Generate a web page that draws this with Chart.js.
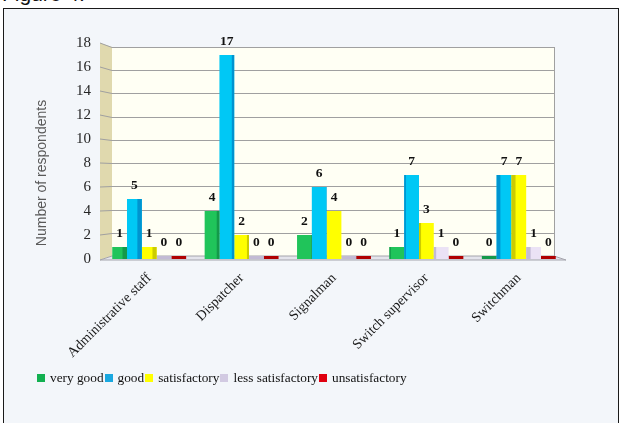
<!DOCTYPE html>
<html>
<head>
<meta charset="utf-8">
<script src="https://cdn.jsdelivr.net/npm/chart.js@4/dist/chart.umd.min.js"></script>
<style>
  html, body { margin: 0; padding: 0; background: #ffffff; width: 622px; height: 423px; overflow: hidden; }
  #cap { position: absolute; left: 2px; top: -18px; font: 21px "Liberation Sans", Arial, sans-serif; color: #111; line-height: 24px; }
  #frame { position: absolute; left: 3px; top: 8px; width: 614px; height: 440px; border: 1px solid #1a1a1a; background: #f3f6fa; }
  #chartBox { position: absolute; left: 0; top: 0; width: 622px; height: 423px; }
  #legend { position: absolute; left: 37px; top: 370px; font: 13.3px "Liberation Serif", "Times New Roman", serif; color: #111; white-space: nowrap; display: flex; }
  #legend .item { display: inline-flex; align-items: center; margin-right: 1px; }
  #legend .box { display: inline-block; width: 8px; height: 8px; margin-right: 5px; }
</style>
</head>
<body>
<div id="cap">Figure 4.</div>
<div id="frame"></div>
<div id="chartBox"><canvas id="c" width="622" height="423"></canvas></div>
<div id="legend"></div>
<script>
// Survey results: respondents per job category and rating
const categories = ['Administrative staff', 'Dispatcher', 'Signalman', 'Switch supervisor', 'Switchman'];
const seriesNames = ['very good', 'good', 'satisfactory', 'less satisfactory', 'unsatisfactory'];
const veryGood = [1, 4, 2, 1, 0];
const good = [5, 17, 6, 7, 7];
const satisfactory = [1, 2, 4, 3, 7];
const lessSatisfactory = [0, 0, 0, 1, 1];
const unsatisfactory = [0, 0, 0, 0, 0];
const yTicks = [0, 2, 4, 6, 8, 10, 12, 14, 16, 18];
const yTitle = 'Number of respondents';

const faceColors = ['#20c45a', '#00c8f5', '#ffff00', '#ebe2f5', '#e00000'];
const sideColors = ['#14994a', '#0094d0', '#cccc00', '#c2bad4', '#b00000'];
const legendColors = ['#12b050', '#1aa8e0', '#ffff00', '#d2cae2', '#e00010'];

const seriesValues = [veryGood, good, satisfactory, lessSatisfactory, unsatisfactory];

const serif = '"Liberation Serif", "Times New Roman", serif';

// Walls, floor and slanted grid lines behind the bars
const roomPlugin = {
  id: 'room',
  beforeDatasetsDraw(chart) {
    const ctx = chart.ctx;
    const ys = chart.scales.y;
    const ca = chart.chartArea;
    const yMax = yTicks[yTicks.length - 1];
    const fTop = ys.getPixelForValue(yMax);
    const fZero = ys.getPixelForValue(0);
    const fBot = fZero + 1;
    const bTop = fTop + 4;
    const bBot = fZero - 3;
    const back = v => bTop + (ys.getPixelForValue(v) - fTop) * (bBot - bTop) / (fZero - fTop);
    const fx0 = ca.left - 3, fx1 = ca.right + 1;
    const bx0 = ca.left + 9, bx1 = ca.right - 11;

    ctx.save();
    // back wall
    ctx.fillStyle = '#fffff4';
    ctx.fillRect(bx0, back(yMax), bx1 - bx0, back(0) - back(yMax));
    // left wall
    ctx.fillStyle = '#e0d9ae';
    ctx.beginPath();
    ctx.moveTo(fx0, fTop);
    ctx.lineTo(bx0, back(yMax));
    ctx.lineTo(bx0, back(0));
    ctx.lineTo(fx0, fBot);
    ctx.closePath();
    ctx.fill();
    // floor
    ctx.fillStyle = '#e4e4ec';
    ctx.strokeStyle = '#a4a4ac';
    ctx.lineWidth = 1;
    ctx.beginPath();
    ctx.moveTo(fx0, fBot);
    ctx.lineTo(bx0, back(0));
    ctx.lineTo(bx1, back(0));
    ctx.lineTo(fx1, fBot);
    ctx.closePath();
    ctx.fill();
    ctx.stroke();
    // grid lines
    ctx.strokeStyle = '#a0a0a0';
    yTicks.forEach(v => {
      if (v === 0) return;
      const yb = Math.round(back(v)) + 0.5;
      ctx.beginPath();
      ctx.moveTo(fx0, ys.getPixelForValue(v));
      ctx.lineTo(bx0, yb);
      ctx.lineTo(bx1, yb);
      ctx.stroke();
    });
    // right edge of back wall
    ctx.beginPath();
    ctx.moveTo(bx1 + 0.5, back(yMax));
    ctx.lineTo(bx1 + 0.5, back(0));
    ctx.stroke();
    ctx.restore();
  },
  afterDatasetsDraw(chart) {
    const ctx = chart.ctx;
    const ca = chart.chartArea;
    const cx = (ca.left + ca.right) / 2;
    ctx.save();
    chart.data.datasets.forEach((ds, di) => {
      const meta = chart.getDatasetMeta(di);
      meta.data.forEach((el, i) => {
        const v = ds.data[i];
        if (v > 0) {
          // shaded side face of each bar
          const dx = el.x - cx;
          const w = Math.min(4.5, Math.abs(dx) / 45);
          ctx.fillStyle = sideColors[di];
          const x0 = dx < 0 ? el.x + el.width / 2 - w : el.x - el.width / 2;
          ctx.fillRect(x0, el.y, w, el.base - el.y);
        }
        // value label
        ctx.fillStyle = '#111111';
        ctx.font = 'bold 13.5px ' + serif;
        ctx.textAlign = 'center';
        ctx.textBaseline = 'alphabetic';
        ctx.fillText(String(v), el.x, el.y - 10);
      });
    });
    ctx.restore();
  },
  afterDraw(chart) {
    const ctx = chart.ctx;
    ctx.save();
    ctx.translate(42, 173);
    ctx.rotate(-Math.PI / 2);
    ctx.font = '14px "Liberation Sans", Arial, sans-serif';
    ctx.fillStyle = '#595959';
    ctx.textAlign = 'center';
    ctx.textBaseline = 'middle';
    ctx.fillText(yTitle, 0, 0);
    ctx.restore();
  }
};

const datasets = seriesNames.map((name, i) => ({
  label: name,
  data: seriesValues[i],
  backgroundColor: c => (c.raw === 0 ? sideColors[i] : faceColors[i]),
  borderWidth: 0,
  minBarLength: 3,
  categoryPercentage: 0.8,
  barPercentage: 1.0
}));

new Chart(document.getElementById('c'), {
  type: 'bar',
  data: { labels: categories, datasets },
  plugins: [roomPlugin],
  options: {
    responsive: false,
    animation: false,
    devicePixelRatio: 1,
    layout: { padding: { left: 0, right: 57, top: 43, bottom: 0 } },
    plugins: { legend: { display: false }, tooltip: { enabled: false } },
    scales: {
      x: {
        grid: { display: false, drawTicks: false },
        border: { display: false },
        ticks: {
          font: { family: serif, size: 14 },
          color: '#1a1a1a',
          maxRotation: 45,
          minRotation: 45,
          padding: 11
        },
        afterFit(scale) { scale.height = 164; }
      },
      y: {
        min: 0,
        max: 18,
        grid: { display: false, drawTicks: false },
        border: { display: false },
        afterBuildTicks(scale) { scale.ticks = yTicks.map(v => ({ value: v })); },
        ticks: {
          font: { family: serif, size: 15 },
          color: '#262626',
          padding: 12
        },
        afterFit(scale) { scale.width = 103; }
      }
    }
  }
});

// legend row
const legend = document.getElementById('legend');
seriesNames.forEach((name, i) => {
  const item = document.createElement('span');
  item.className = 'item';
  const box = document.createElement('span');
  box.className = 'box';
  box.style.background = legendColors[i];
  item.appendChild(box);
  item.appendChild(document.createTextNode(name));
  legend.appendChild(item);
});
</script>
</body>
</html>
